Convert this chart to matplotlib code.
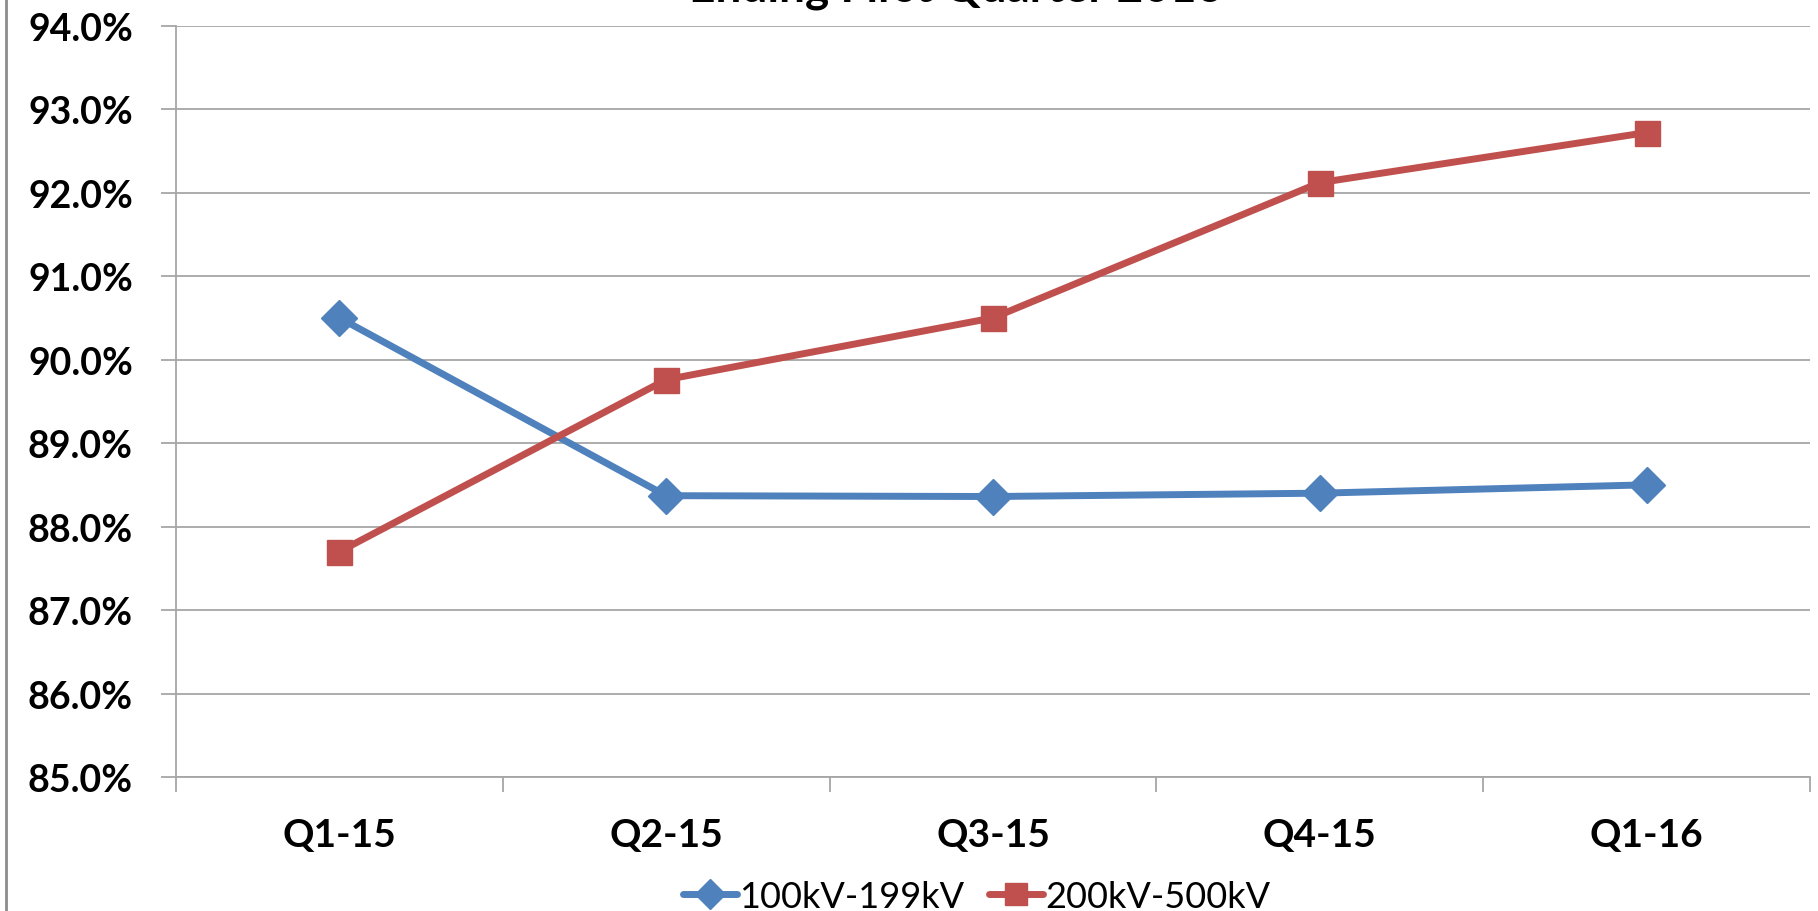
import numpy as np
import matplotlib
matplotlib.use('Agg')
import matplotlib.pyplot as plt
from matplotlib.lines import Line2D
from matplotlib.ticker import FuncFormatter

plt.rcParams['font.family'] = ['Lato', 'DejaVu Sans']

# quarterly values, in percent
quarters = ['Q1-15', 'Q2-15', 'Q3-15', 'Q4-15', 'Q1-16']
kv_100_199 = [90.50, 88.37, 88.36, 88.40, 88.50]
kv_200_500 = [87.70, 89.76, 90.50, 92.12, 92.72]
series_names = ['100kV-199kV', '200kV-500kV']

blue = '#4F81BD'
red = '#C0504D'
grid_gray = '#A6A6A6'

fig = plt.figure(figsize=(18.18, 9.12), dpi=100)
ax = fig.add_axes([176 / 1818, 1 - 778 / 912, (1810 - 176) / 1818, (778 - 26.7) / 912])

x = np.arange(len(quarters))
ax.plot(x, kv_100_199, color=blue, lw=5, marker='D', ms=18.5, mec=blue, mfc=blue,
        label=series_names[0], solid_capstyle='round', zorder=3)
ax.plot(x, kv_200_500, color=red, lw=5, marker='s', ms=18, mec=red, mfc=red,
        label=series_names[1], solid_capstyle='round', zorder=3)

ax.set_xlim(-0.5, len(quarters) - 0.5)
ax.set_ylim(85, 94)
ax.set_yticks(np.arange(85, 94.01, 1))
ax.yaxis.set_major_formatter(FuncFormatter(lambda v, p: f'{v:.1f}%'))
ax.grid(axis='y', color=grid_gray, lw=1.3)
ax.set_axisbelow(True)

ax.set_xticks(x)
ax.set_xticklabels(quarters)
ax.set_xticks(np.arange(-0.5, len(quarters)), minor=True)
ax.tick_params(axis='x', which='major', length=0, pad=29, labelsize=28)
ax.tick_params(axis='x', which='minor', length=11, width=1.3, color=grid_gray, direction='out')
ax.tick_params(axis='y', length=11, width=1.3, color=grid_gray, pad=20, labelsize=27)
for lab in ax.get_xticklabels() + ax.get_yticklabels():
    lab.set_fontweight('bold')

for s in ['top', 'right']:
    ax.spines[s].set_visible(False)
for s in ['left', 'bottom']:
    ax.spines[s].set_color(grid_gray)
    ax.spines[s].set_linewidth(1.3)

ax.legend(loc='lower center', bbox_to_anchor=(0.49, -0.2), ncol=2, frameon=False,
          fontsize=26, handlelength=1.5, handletextpad=0.05, columnspacing=0.7,
          borderaxespad=0, markerscale=0.85)

# title line at the top edge
fig.text(956 / 1818, 1 - 1 / 912, 'Ending First Quarter 2016', ha='center', va='baseline',
         fontsize=33, fontweight='bold')

# outer chart border on the left
fig.add_artist(Line2D([6 / 1818, 6 / 1818], [0, 1], transform=fig.transFigure,
                      color='#8C8C8C', lw=2))

fig.savefig('out.png', dpi=100)
